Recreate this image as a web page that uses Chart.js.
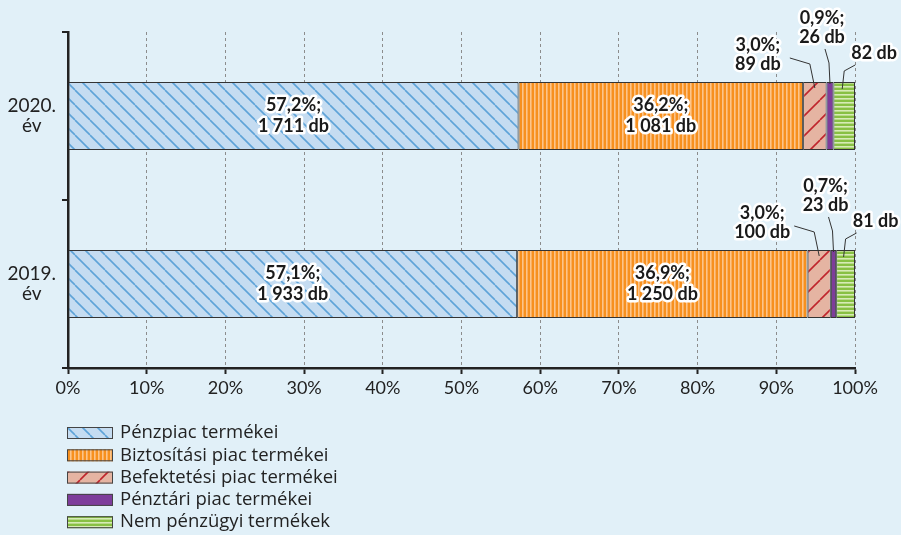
<!DOCTYPE html>
<html><head><meta charset="utf-8">
<script src="https://cdn.jsdelivr.net/npm/chart.js@4"></script>
<style>html,body{margin:0;padding:0;background:#E1F0F8;}#wrap{width:901px;height:535px;position:relative;}</style>
</head><body><div id="wrap"><canvas id="c" width="901" height="535"></canvas></div>
<script>
// ---- data ----
const categories = ['2020. év', '2019. év'];
const seriesNames = ['Pénzpiac termékei', 'Biztosítási piac termékei', 'Befektetési piac termékei', 'Pénztári piac termékei', 'Nem pénzügyi termékek'];
const penzpiac = [1711, 1933];
const biztositasi = [1081, 1250];
const befektetesi = [89, 100];
const penztari = [26, 23];
const nemPenzugyi = [82, 81];
const xTicks = [0, 10, 20, 30, 40, 50, 60, 70, 80, 90, 100];

const counts = [penzpiac, biztositasi, befektetesi, penztari, nemPenzugyi];
const totals = categories.map((_, i) => counts.reduce((s, a) => s + a[i], 0));
const shares = counts.map(a => a.map((v, i) => v / totals[i] * 100));

function mkPattern(w, h, draw) {
  const c = document.createElement('canvas'); c.width = w; c.height = h;
  const g = c.getContext('2d'); draw(g, w, h);
  return document.getElementById('c').getContext('2d').createPattern(c, 'repeat');
}
const pBlue = mkPattern(15, 15, (g, w, h) => {
  g.fillStyle = '#C5DCF1'; g.fillRect(0, 0, w, h);
  g.strokeStyle = '#5EA3D8'; g.lineWidth = 1.6;
  for (const o of [-w, 0, w]) { g.beginPath(); g.moveTo(o, 0); g.lineTo(o + w, h); g.stroke(); }
});
const pOrange = mkPattern(4, 4, (g, w, h) => {
  g.fillStyle = '#F7901E'; g.fillRect(0, 0, w, h);
  g.fillStyle = '#FCC48A'; g.fillRect(2, 0, 1.6, h);
});
const pSalmon = mkPattern(20, 20, (g, w, h) => {
  g.fillStyle = '#E5B4A2'; g.fillRect(0, 0, w, h);
  g.strokeStyle = '#C0252D'; g.lineWidth = 1.6;
  for (const o of [-w, 0, w]) { g.beginPath(); g.moveTo(o, h); g.lineTo(o + w, 0); g.stroke(); }
});
const cPurple = '#7E3D9B';
const pGreen = mkPattern(4, 4, (g, w, h) => {
  g.fillStyle = '#88C043'; g.fillRect(0, 0, w, h);
  g.fillStyle = '#D7EBB6'; g.fillRect(0, 2, w, 1.6);
});
const fills = [pBlue, pOrange, pSalmon, cPurple, pGreen];

function fmtPct(v) { return v.toFixed(1).replace('.', ',') + '%;'; }
function fmtCount(v) { return String(v).replace(/\B(?=(\d{3})+(?!\d))/g, ' ') + ' db'; }

const LABEL_FONT = 'bold 18px Lato';
function haloText(ctx, txt, x, y) {
  ctx.lineWidth = 5; ctx.lineJoin = 'round'; ctx.strokeStyle = '#fff';
  ctx.strokeText(txt, x, y);
  ctx.fillStyle = '#1a1a1a'; ctx.fillText(txt, x, y);
}
// offsets for outside labels (layout only)
const outside = {
  2: { dx: -57, lines: [-37, -18], leader: [[-25, -24], [-5, -18], [0, 6]] },
  3: { dx: -8, lines: [-64, -45], leader: [[-5, -33], [-1, -19], [0, 2]] },
  4: { dx: 30, lines: [-29], leader: [[11, -17], [0, -11], [-2, 7]] }
};

const labelPlugin = {
  id: 'labels',
  afterDatasetsDraw(chart) {
    const ctx = chart.ctx;
    ctx.save();
    ctx.font = LABEL_FONT; ctx.textAlign = 'center'; ctx.textBaseline = 'middle';
    chart.data.datasets.forEach((ds, di) => {
      const meta = chart.getDatasetMeta(di);
      meta.data.forEach((bar, i) => {
        const cx = (bar.x + bar.base) / 2;
        const top = bar.y - bar.height / 2;
        const pct = fmtPct(shares[di][i]);
        const cnt = fmtCount(counts[di][i]);
        if (di < 2) {
          haloText(ctx, pct, cx, bar.y - 11);
          haloText(ctx, cnt, cx, bar.y + 10);
        } else {
          const o = outside[di];
          ctx.strokeStyle = '#333'; ctx.lineWidth = 1;
          ctx.beginPath();
          o.leader.forEach((p, k) => { const X = cx + p[0], Y = top + p[1]; k ? ctx.lineTo(X, Y) : ctx.moveTo(X, Y); });
          ctx.stroke();
          const texts = o.lines.length === 2 ? [pct, cnt] : [cnt];
          texts.forEach((t, k) => haloText(ctx, t, cx + o.dx, top + o.lines[k]));
        }
      });
    });
    ctx.restore();
  },
  afterDraw(chart) {
    const ctx = chart.ctx;
    ctx.save();
    ctx.font = '18.5px "Open Sans"'; ctx.textBaseline = 'middle'; ctx.textAlign = 'left';
    chart.data.datasets.forEach((ds, di) => {
      const y = 433 + di * 22.3;
      ctx.fillStyle = ds.backgroundColor;
      ctx.fillRect(67, y - 6, 46, 12);
      ctx.strokeStyle = '#444'; ctx.lineWidth = 1;
      ctx.strokeRect(67.5, y - 6 + 0.5, 45, 11);
      ctx.fillStyle = '#222';
      ctx.fillText(ds.label, 120, y);
    });
    ctx.restore();
  }
};

const bgPlugin = {
  id: 'bg',
  beforeDraw(chart) { const c = chart.ctx; c.save(); c.fillStyle = '#E1F0F8'; c.fillRect(0, 0, chart.width, chart.height); c.restore(); }
};

new Chart(document.getElementById('c'), {
  type: 'bar',
  data: {
    labels: categories.map(c => c.split(' ')),
    datasets: seriesNames.map((n, di) => ({
      label: n, data: shares[di], backgroundColor: fills[di],
      borderColor: '#333', borderWidth: 1, borderSkipped: false,
      barPercentage: 0.405, categoryPercentage: 1
    }))
  },
  options: {
    indexAxis: 'y', responsive: false, animation: false,
    layout: { padding: { left: 0, right: 46, top: 32, bottom: 137 } },
    plugins: { legend: { display: false }, tooltip: { enabled: false } },
    scales: {
      x: {
        stacked: true, min: 0, max: 100,
        afterBuildTicks: s => { s.ticks = xTicks.map(v => ({ value: v })); },
        afterFit: s => { s.height = 30; },
        ticks: { callback: v => v + '%', color: '#222', font: { family: 'Lato', size: 18 }, padding: 3, maxRotation: 0 },
        grid: { color: '#8c8c8c', lineWidth: 1, tickLength: 6, tickColor: '#222', tickBorderDash: [], tickWidth: 2 },
        border: { color: '#222', width: 2.5, dash: [3, 3] }
      },
      y: {
        stacked: true,
        afterFit: s => { s.width = 68; },
        ticks: { color: '#222', font: { family: 'Lato', size: 19, lineHeight: 1.05 }, crossAlign: 'center', padding: 6 },
        grid: { drawOnChartArea: false, color: '#222', lineWidth: 2, tickLength: 6 },
        border: { color: '#222', width: 2.5 }
      }
    }
  },
  plugins: [bgPlugin, labelPlugin]
});
</script></body></html>
